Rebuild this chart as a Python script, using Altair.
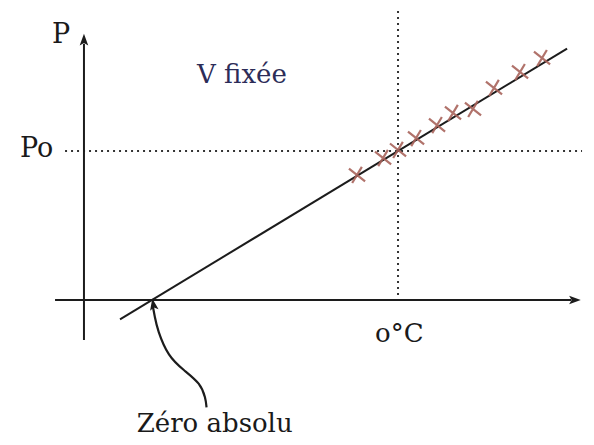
import altair as alt
import pandas as pd

# measured crosses: temperature (°C) and pressure (in units of P0)
cross_T = [-45.5, -16.6, 0.0, 20.0, 43.3, 61.0, 83.2, 106.5, 135.4, 159.8]
cross_P = [0.839, 0.953, 1.007, 1.087, 1.174, 1.255, 1.282, 1.423, 1.530, 1.624]

# fitted line P = P0 (1 + T/273)
line_T = [-308.5, 187.6]
line_P = [1 + t / 273.0 for t in line_T]

# axes (drawn as lines)
yaxis_T = [-348.5, -348.5]
yaxis_P = [-0.268, 1.72]
xaxis_T = [-380.6, 192.0]
xaxis_P = [0.0, 0.0]

# dotted guides
zero_T = [0.0, 0.0]
zero_P = [1.98, -0.034]
p0_T = [-369.5, 204.2]
p0_P = [1.0, 1.0]

# curved arrow to absolute zero
curve_T = [-272.0, -270.0, -267.0, -255.0, -238.0, -219.0, -213.5, -212.5]
curve_P = [-0.045, -0.11, -0.20, -0.38, -0.47, -0.56, -0.66, -0.72]

# labels
label_text = ["P", "Po", "V fixée", "o°C", "Zéro absolu"]
label_T = [-384.0, -419.5, -223.0, -25.5, -290.0]
label_P = [1.725, 0.96, 1.456, -0.282, -0.885]
label_size = [27, 27, 26, 26, 26]
label_color = ["#1a1a1a", "#1a1a1a", "#2c2c58", "#1a1a1a", "#1a1a1a"]

# arrow heads
head_T = [-348.5, 196.0, -271.5]
head_P = [1.745, 0.0, -0.03]
head_angle = [0, 90, 350]

X = alt.Scale(domain=[-432.8, 208.6])
Y = alt.Scale(domain=[-0.9195, 1.9597])

def seg(T, P, name):
    return pd.DataFrame({"T": T, "P": P, "o": list(range(len(T))), "g": name})

ink = "#1c1c1c"

axes = alt.Chart(pd.concat([seg(yaxis_T, yaxis_P, "y"), seg(xaxis_T, xaxis_P, "x")])).mark_line(
    color=ink, strokeWidth=2
).encode(
    x=alt.X("T:Q", scale=X, axis=None),
    y=alt.Y("P:Q", scale=Y, axis=None),
    detail="g:N",
    order="o:Q",
)

guides = alt.Chart(pd.concat([seg(zero_T, zero_P, "z"), seg(p0_T, p0_P, "p")])).mark_line(
    color="#333333", strokeWidth=2, strokeDash=[2, 4]
).encode(
    x=alt.X("T:Q", scale=X, axis=None),
    y=alt.Y("P:Q", scale=Y, axis=None),
    detail="g:N",
    order="o:Q",
)

fit = alt.Chart(seg(line_T, line_P, "l")).mark_line(color=ink, strokeWidth=2).encode(
    x=alt.X("T:Q", scale=X, axis=None),
    y=alt.Y("P:Q", scale=Y, axis=None),
    order="o:Q",
)

curve = alt.Chart(seg(curve_T, curve_P, "c")).mark_line(
    color=ink, strokeWidth=2.2, interpolate="basis"
).encode(
    x=alt.X("T:Q", scale=X, axis=None),
    y=alt.Y("P:Q", scale=Y, axis=None),
    order="o:Q",
)

heads = alt.Chart(pd.DataFrame({"T": head_T, "P": head_P, "a": head_angle})).mark_point(
    shape="M0,-1L0.7,0.9L0,0.5L-0.7,0.9Z", filled=True, color=ink, size=150, opacity=1
).encode(
    x=alt.X("T:Q", scale=X, axis=None),
    y=alt.Y("P:Q", scale=Y, axis=None),
    angle=alt.Angle("a:Q", scale=None),
)

crosses = alt.Chart(pd.DataFrame({"T": cross_T, "P": cross_P})).mark_point(
    shape="M-1,-0.8L1,0.8M-0.6,1L0.6,-1", color="#a9645c", strokeWidth=2.2, size=260, opacity=0.9
).encode(
    x=alt.X("T:Q", scale=X, axis=None),
    y=alt.Y("P:Q", scale=Y, axis=None),
)

labels = alt.Chart(pd.DataFrame({
    "T": label_T, "P": label_P, "t": label_text, "s": label_size, "c": label_color
})).mark_text(font="DejaVu Serif", align="left", baseline="alphabetic").encode(
    x=alt.X("T:Q", scale=X, axis=None),
    y=alt.Y("P:Q", scale=Y, axis=None),
    text="t:N",
    size=alt.Size("s:Q", scale=None),
    color=alt.Color("c:N", scale=None),
)

chart = alt.layer(guides, axes, fit, curve, heads, crosses, labels).properties(
    width=578, height=429, padding=0, background="white",
    autosize=alt.AutoSizeParams(type="none")
).configure_view(stroke=None, strokeWidth=0)

chart.save("out.html", embed_options={"renderer": "svg", "actions": False})
